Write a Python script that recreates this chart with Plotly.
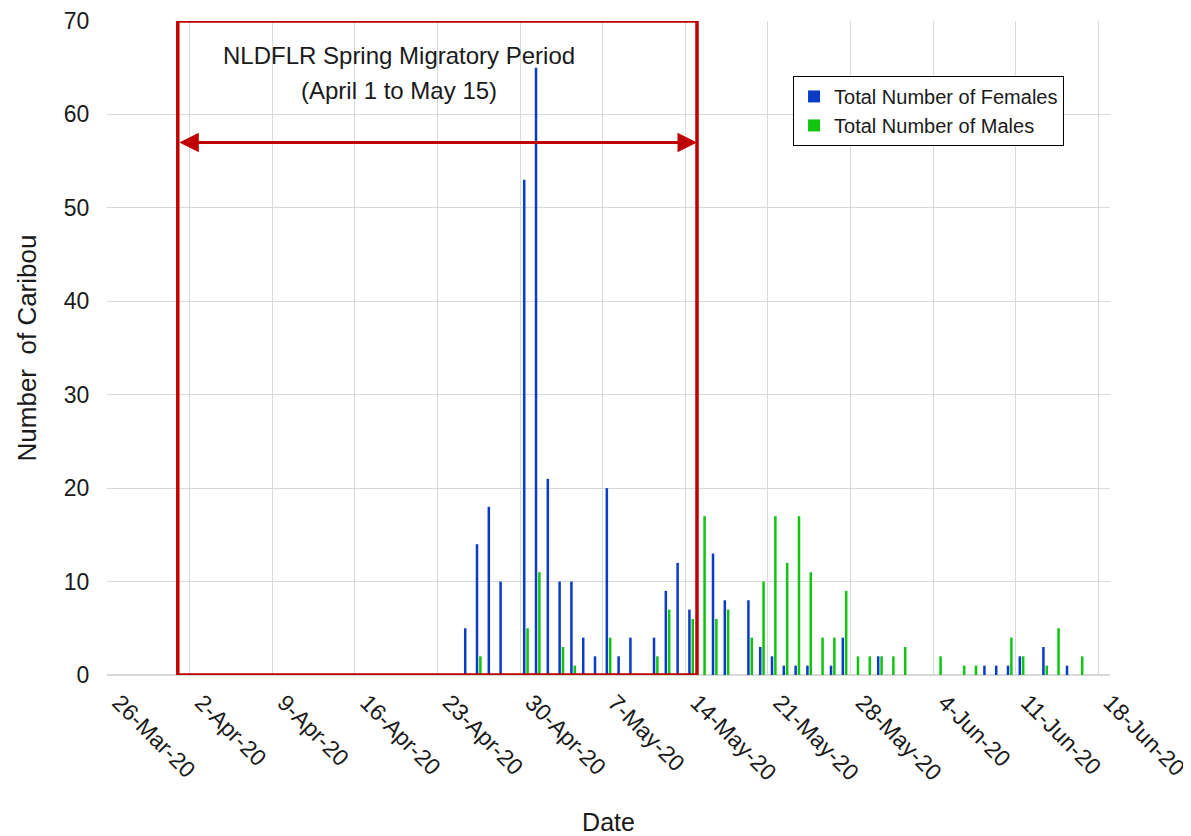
import plotly.graph_objects as go

# ---- data ----
dates = [
    "2020-04-25", "2020-04-26", "2020-04-27", "2020-04-28", "2020-04-30",
    "2020-05-01", "2020-05-02", "2020-05-03", "2020-05-04", "2020-05-05",
    "2020-05-06", "2020-05-07", "2020-05-08", "2020-05-09", "2020-05-11",
    "2020-05-12", "2020-05-13", "2020-05-14", "2020-05-15", "2020-05-16",
    "2020-05-17", "2020-05-19", "2020-05-20", "2020-05-21", "2020-05-22",
    "2020-05-23", "2020-05-24", "2020-05-25", "2020-05-26", "2020-05-27",
    "2020-05-28", "2020-05-29", "2020-05-30", "2020-05-31", "2020-06-01",
    "2020-06-04", "2020-06-06", "2020-06-07", "2020-06-08", "2020-06-09",
    "2020-06-10", "2020-06-11", "2020-06-13", "2020-06-14", "2020-06-15",
    "2020-06-16",
]
females = [5, 14, 18, 10, 53, 65, 21, 10, 10, 4, 2, 20, 2, 4, 4, 9, 12, 7, 0, 13,
           8, 8, 3, 2, 1, 1, 1, 0, 1, 4, 0, 0, 2, 0, 0, 0, 0, 0, 1, 1,
           1, 2, 3, 0, 1, 0]
males = [0, 2, 0, 0, 5, 11, 0, 3, 1, 0, 0, 4, 0, 0, 2, 7, 0, 6, 17, 6,
         7, 4, 10, 17, 12, 17, 11, 4, 4, 9, 2, 2, 2, 2, 3, 2, 1, 1, 0, 0,
         4, 2, 1, 5, 0, 2]

series_names = ["Total Number of Females", "Total Number of Males"]
period_start = "2020-04-01"
period_end = "2020-05-15"
arrow_level = 57
y_max = 70
x_range = ["2020-03-26", "2020-06-19"]
tick_start = "2020-03-26"
annotation_lines = ["NLDFLR Spring Migratory Period", "(April 1 to May 15)"]

BLUE = "#0B3CC8"
GREEN = "#10C410"
RED = "#C00000"
FONT = "Liberation Sans, Arial, sans-serif"
TXT = "#1a1a1a"
DAY_MS = 86400000

fig = go.Figure()
fig.add_trace(go.Bar(x=dates, y=females, name=series_names[0], marker_color=BLUE,
                     marker_line_width=0, xperiod=DAY_MS, xperiodalignment="middle"))
fig.add_trace(go.Bar(x=dates, y=males, name=series_names[1], marker_color=GREEN,
                     marker_line_width=0, xperiod=DAY_MS, xperiodalignment="middle"))

fig.add_shape(type="rect", xref="x", yref="y", x0=period_start, x1=period_end,
              y0=0, y1=y_max, line=dict(color=RED, width=3.5), layer="above")

fig.add_annotation(x=period_end, y=arrow_level, ax=period_start, ay=arrow_level,
                   xref="x", yref="y", axref="x", ayref="y", text="",
                   showarrow=True, arrowhead=2, startarrowhead=2, arrowside="end+start",
                   arrowwidth=3, arrowsize=1.3, startarrowsize=1.3, arrowcolor=RED,
                   standoff=0, startstandoff=0)

for text, ypos in zip(annotation_lines, [0.948, 0.894]):
    fig.add_annotation(x=0.291, y=ypos, xref="paper", yref="paper", text=text,
                       showarrow=False, font=dict(family=FONT, size=24, color=TXT),
                       xanchor="center", yanchor="middle", align="center")

fig.update_layout(
    width=1183, height=828,
    margin=dict(l=99, r=81, t=13, b=161),
    paper_bgcolor="white", plot_bgcolor="white",
    barmode="group", bargap=0.43, bargroupgap=0.25,
    font=dict(family=FONT, color=TXT),
    legend=dict(x=0.684, y=0.916, xanchor="left", yanchor="top",
                bordercolor="#000000", borderwidth=1, bgcolor="white",
                font=dict(family=FONT, size=20, color=TXT)),
    xaxis=dict(type="date", range=x_range, tick0=tick_start, dtick=7 * DAY_MS,
               tickformat="%-d-%b-%y", tickangle=45, showgrid=True,
               gridcolor="#d9d9d9", gridwidth=1, showline=False, zeroline=False,
               ticks="outside", ticklen=4, tickcolor="rgba(0,0,0,0)",
               ticklabelshift=12, ticklabeloverflow="allow", automargin=False,
               tickfont=dict(family=FONT, size=23, color=TXT),
               title=dict(text="Date", font=dict(family=FONT, size=25, color=TXT), standoff=28)),
    yaxis=dict(range=[0, y_max], dtick=10, showgrid=True, gridcolor="#d9d9d9",
               gridwidth=1, zeroline=True, zerolinecolor="#d9d9d9", showline=False,
               ticks="outside", ticklen=12, tickcolor="rgba(0,0,0,0)", automargin=False,
               tickfont=dict(family=FONT, size=23, color=TXT),
               title=dict(text="Number  of Caribou", font=dict(family=FONT, size=26, color=TXT), standoff=19)),
)

fig.write_html("out.html")
